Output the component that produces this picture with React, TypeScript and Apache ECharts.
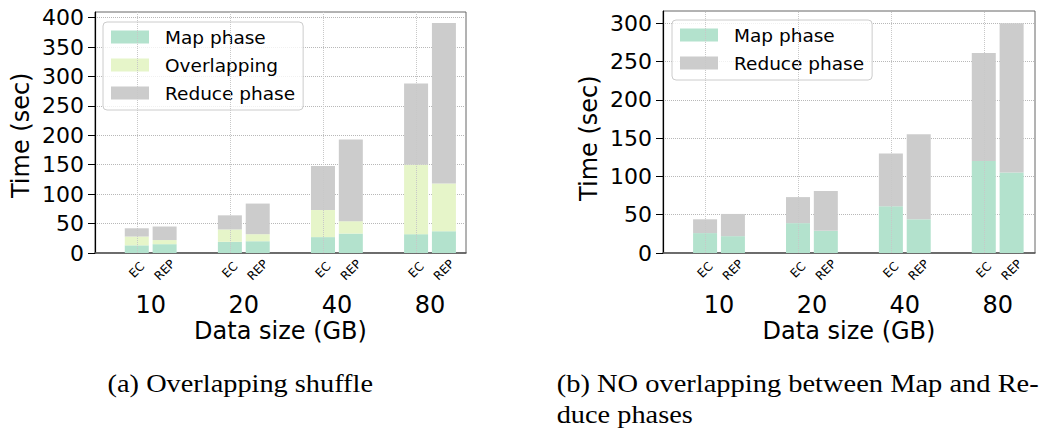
import React, { useEffect, useRef } from "react";
import * as echarts from "echarts";

const groups = ["10", "20", "40", "80"];
const barTags = ["EC", "REP"];

const leftMapEC = [13, 19, 27, 32];
const leftMapREP = [15, 20, 33, 37];
const leftOverlapEC = [15, 21, 46, 118];
const leftOverlapREP = [7, 12, 21, 81];
const leftReduceEC = [14, 24, 75, 138];
const leftReduceREP = [23, 52, 139, 273];

const rightMapEC = [26, 39, 61, 120];
const rightMapREP = [22, 29, 44, 105];
const rightReduceEC = [18, 34, 69, 141];
const rightReduceREP = [29, 52, 111, 195];

const leftMax = 409.5;
const leftTickMax = 400;
const rightMax = 316;
const rightTickMax = 300;

const C_MAP = "#b3e2cd";
const C_OVER = "#e6f5c9";
const C_RED = "#cccccc";
const FONT = "DejaVu Sans";

export default function App() {
  const ref = useRef<HTMLDivElement>(null);
  useEffect(() => {
    if (!ref.current) return;
    const chart = echarts.init(ref.current, undefined, { renderer: "svg" });

    const LT = 12, LH = 241, LL = 95, LW = 371;
    const RT = 11, RH = 242, RL = 663, RW = 372;
    const LBL = 104.15, LBW = 372.4;
    const RBL = 672.55, RBW = 371.6;
    const BAR_W = 24;
    const GAP_PCT = 16;
    const half = (BAR_W * 2 + (BAR_W * GAP_PCT) / 100) / 2 - BAR_W / 2;
    const lTickTop = LT + LH - (leftTickMax / leftMax) * LH;
    const rTickTop = RT + RH - (rightTickMax / rightMax) * RH;

    const gridLine = { show: true, lineStyle: { type: "dotted" as const, color: "#b8b8b8", width: 1 } };

    const barCommon = (xi: number, yi: number, stack: string, name: string, color: string, data: number[]) => ({
      type: "bar" as const,
      name,
      stack,
      xAxisIndex: xi,
      yAxisIndex: yi,
      data,
      barWidth: BAR_W,
      barGap: GAP_PCT + "%",
      itemStyle: { color },
      emphasis: { disabled: true },
    });

    const vLines = {
      silent: true,
      symbol: ["none", "none"],
      label: { show: false },
      lineStyle: { type: "dotted" as const, color: "#c8c8c8", width: 1 },
      data: groups.map((g) => ({ xAxis: g })),
    };

    const hiddenVal = (gi: number, min: number, max: number) => ({
      type: "value" as const,
      gridIndex: gi,
      min,
      max,
      axisLabel: { show: false },
      axisTick: { show: false },
      splitLine: { show: false },
      axisLine: { show: false },
    });

    const catAxis = (gi: number) => ({
      type: "category" as const,
      gridIndex: gi,
      data: groups,
      axisLine: { show: false },
      axisTick: { show: false },
      splitLine: { show: false },
      axisLabel: { fontSize: 24, margin: 40, color: "#000", fontFamily: FONT },
    });

    const frameX = (gi: number) => ({
      ...hiddenVal(gi, 0, 1),
      axisLine: { show: true, lineStyle: { color: "#555", width: 1.5 } },
      name: "Data size (GB)",
      nameLocation: "middle" as const,
      nameGap: 66,
      nameTextStyle: { fontSize: 24, color: "#000", fontFamily: FONT },
    });

    const frameY = (gi: number, max: number) => ({
      ...hiddenVal(gi, 0, max),
      axisLine: { show: true, lineStyle: { color: "#000", width: 1.2 } },
    });

    const tickY = (gi: number, max: number) => ({
      type: "value" as const,
      gridIndex: gi,
      min: 0,
      max,
      interval: 50,
      axisLine: { show: false },
      axisTick: { show: true, length: 7, lineStyle: { color: "#000" } },
      axisLabel: { fontSize: 22, margin: 11, color: "#000", fontFamily: FONT },
      splitLine: gridLine,
      name: "Time (sec)",
      nameLocation: "middle" as const,
      nameGap: 62,
      nameTextStyle: { fontSize: 24, color: "#000", fontFamily: FONT },
    });

    const legendCommon = {
      orient: "vertical" as const,
      icon: "rect",
      itemWidth: 38,
      itemHeight: 13,
      itemGap: 8,
      padding: [5, 8, 7, 8],
      backgroundColor: "rgba(255,255,255,0.8)",
      borderColor: "#cccccc",
      borderWidth: 1,
      borderRadius: 4,
      selectedMode: false,
      textStyle: { fontSize: 18.5, lineHeight: 20, color: "#000", fontFamily: FONT, padding: [0, 0, 0, 11] },
    };

    const captions = [
      {
        type: "text",
        x: 240.3,
        y: 383,
        scaleX: 1.09,
        style: { text: "(a) Overlapping shuffle", font: '26px "Liberation Serif"', textAlign: "center", textVerticalAlign: "middle", fill: "#000" },
      },
      {
        type: "text",
        x: 556.7,
        y: 383,
        scaleX: 1.095,
        style: { text: "(b) NO overlapping between Map and Re-", font: '26px "Liberation Serif"', textAlign: "left", textVerticalAlign: "middle", fill: "#000" },
      },
      {
        type: "text",
        x: 556.7,
        y: 414,
        scaleX: 1.09,
        style: { text: "duce phases", font: '26px "Liberation Serif"', textAlign: "left", textVerticalAlign: "middle", fill: "#000" },
      },
    ];

    chart.setOption({
      animation: false,
      textStyle: { fontFamily: FONT },
      grid: [
        { left: LL, top: LT, width: LW, height: LH, show: true, borderColor: "#666", borderWidth: 1 },
        { left: LBL, top: LT, width: LBW, height: LH },
        { left: LL, top: lTickTop, width: LW, height: LT + LH - lTickTop },
        { left: RL, top: RT, width: RW, height: RH, show: true, borderColor: "#666", borderWidth: 1 },
        { left: RBL, top: RT, width: RBW, height: RH },
        { left: RL, top: rTickTop, width: RW, height: RT + RH - rTickTop },
      ],
      xAxis: [frameX(0), catAxis(1), hiddenVal(2, 0, 1), frameX(3), catAxis(4), hiddenVal(5, 0, 1)],
      yAxis: [
        frameY(0, leftMax),
        hiddenVal(1, 0, leftMax),
        tickY(2, leftTickMax),
        frameY(3, rightMax),
        hiddenVal(4, 0, rightMax),
        tickY(5, rightTickMax),
      ],
      legend: [
        { ...legendCommon, left: 103, top: 22, data: ["Map phase", "Overlapping", "Reduce phase"] },
        { ...legendCommon, left: 672, top: 20, data: ["Map phase", "Reduce phase"] },
      ],
      series: [
        { ...barCommon(1, 1, "lEC", "Map phase", C_MAP, leftMapEC), markLine: vLines },
        barCommon(1, 1, "lREP", "Map phase", C_MAP, leftMapREP),
        barCommon(1, 1, "lEC", "Overlapping", C_OVER, leftOverlapEC),
        barCommon(1, 1, "lREP", "Overlapping", C_OVER, leftOverlapREP),
        barCommon(1, 1, "lEC", "Reduce phase", C_RED, leftReduceEC),
        barCommon(1, 1, "lREP", "Reduce phase", C_RED, leftReduceREP),
        { ...barCommon(4, 4, "rEC", "Map phase", C_MAP, rightMapEC), markLine: vLines },
        barCommon(4, 4, "rREP", "Map phase", C_MAP, rightMapREP),
        barCommon(4, 4, "rEC", "Reduce phase", C_RED, rightReduceEC),
        barCommon(4, 4, "rREP", "Reduce phase", C_RED, rightReduceREP),
      ],
      graphic: captions,
    });

    // Rotated EC / REP tags below each bar, positioned via the category axes' own scale.
    const tags: any[] = [];
    [1, 4].forEach((xi) => {
      const yi = xi;
      groups.forEach((g) => {
        const cx = chart.convertToPixel({ xAxisIndex: xi } as any, g) as unknown as number;
        const by = chart.convertToPixel({ yAxisIndex: yi } as any, 0) as unknown as number;
        barTags.forEach((t, k) => {
          tags.push({
            type: "text",
            x: cx + (k === 0 ? -half : half),
            y: by + 17,
            rotation: Math.PI / 4,
            style: { text: t, font: `12px "${FONT}"`, textAlign: "center", textVerticalAlign: "middle", fill: "#000" },
          });
        });
      });
    });
    chart.setOption({ graphic: [...captions, ...tags] });

    return () => chart.dispose();
  }, []);
  return <div ref={ref} style={{ position: "absolute", left: 0, top: 0, width: 1059, height: 430 }} />;
}
